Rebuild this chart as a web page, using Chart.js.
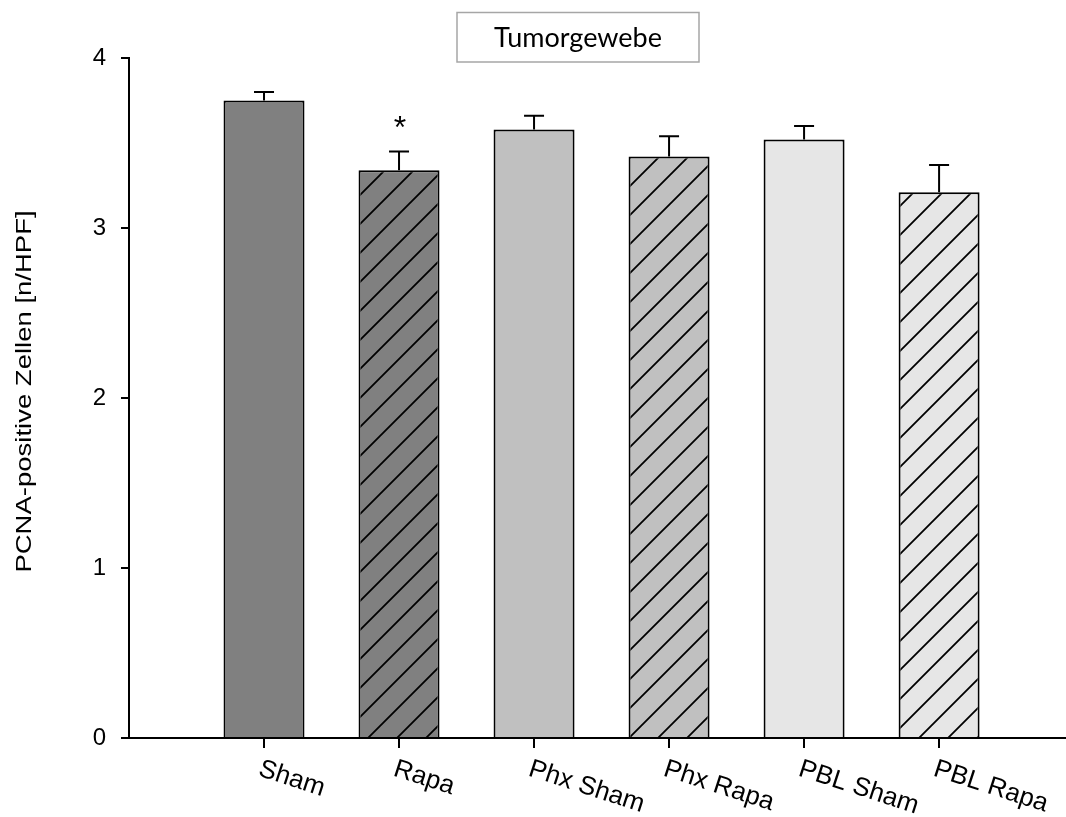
<!DOCTYPE html>
<html>
<head>
<meta charset="utf-8">
<script src="https://cdn.jsdelivr.net/npm/chart.js@4"></script>
<style>
  html, body { margin: 0; padding: 0; background: #ffffff; }
  #c { display: block; }
</style>
</head>
<body>
<canvas id="c" width="1066" height="817"></canvas>
<script>
// Group labels, means and error (upper whisker only)
const categories = ['Sham', 'Rapa', 'Phx Sham', 'Phx Rapa', 'PBL Sham', 'PBL Rapa'];
const means      = [3.75, 3.34, 3.58, 3.42, 3.52, 3.21];
const errors     = [0.05, 0.11, 0.08, 0.12, 0.08, 0.16];
const marks      = ['', '*', '', '', '', ''];
const yTicks     = [0, 1, 2, 3, 4];
const chartTitle = 'Tumorgewebe';
const yTitle     = 'PCNA-positive Zellen [n/HPF]';

// Fill shades and hatching per group
const shades  = ['#808080', '#808080', '#c0c0c0', '#c0c0c0', '#e6e6e6', '#e6e6e6'];
const hatched = [false, true, false, true, false, true];

const SANS = '"Liberation Sans", Arial, sans-serif';

function hatchPattern(bg) {
  const s = 29;
  const cv = document.createElement('canvas');
  cv.width = s; cv.height = s;
  const g = cv.getContext('2d');
  g.fillStyle = bg;
  g.fillRect(0, 0, s, s);
  g.strokeStyle = '#000';
  g.lineWidth = 1.8;
  g.beginPath();
  g.moveTo(-2, s + 2); g.lineTo(s + 2, -2);
  g.moveTo(-2, 2); g.lineTo(2, -2);
  g.moveTo(s - 2, s + 2); g.lineTo(s + 2, s - 2);
  g.stroke();
  const ctx = document.getElementById('c').getContext('2d');
  const p = ctx.createPattern(cv, 'repeat');
  if (p.setTransform) p.setTransform(new DOMMatrix().translate(4, 0));
  return p;
}

const fills = shades.map((c, i) => hatched[i] ? hatchPattern(c) : c);

// Upward error whiskers and significance marks
const errorBars = {
  id: 'errorBars',
  afterDatasetsDraw(chart) {
    const ctx = chart.ctx;
    const y = chart.scales.y;
    const meta = chart.getDatasetMeta(0);
    ctx.save();
    ctx.strokeStyle = '#000';
    ctx.lineWidth = 2;
    meta.data.forEach((bar, i) => {
      const top = y.getPixelForValue(means[i] + errors[i]);
      ctx.beginPath();
      ctx.moveTo(bar.x, bar.y);
      ctx.lineTo(bar.x, top);
      ctx.moveTo(bar.x - 10, top);
      ctx.lineTo(bar.x + 10, top);
      ctx.stroke();
      if (marks[i]) {
        ctx.fillStyle = '#000';
        ctx.font = '32px ' + SANS;
        ctx.textAlign = 'center';
        ctx.textBaseline = 'alphabetic';
        const m = ctx.measureText(marks[i]);
        const mid = (m.actualBoundingBoxAscent - m.actualBoundingBoxDescent) / 2;
        ctx.fillText(marks[i], bar.x + 1, top - 29.5 + mid);
      }
    });
    ctx.restore();
  }
};

// Slanted group labels, stretched y title and boxed chart title
const annotations = {
  id: 'annotations',
  afterDraw(chart) {
    const ctx = chart.ctx;
    const x = chart.scales.x;
    ctx.save();
    ctx.fillStyle = '#000';
    ctx.font = '26px ' + SANS;
    ctx.textAlign = 'left';
    ctx.textBaseline = 'alphabetic';
    const ang = 18 * Math.PI / 180;
    categories.forEach((lab, i) => {
      const px = x.getPixelForValue(i + 1);
      ctx.save();
      ctx.translate(px - 1 - 18.6 * Math.sin(ang), chart.chartArea.bottom + 19.5 + 18.6 * Math.cos(ang));
      ctx.rotate(ang);
      ctx.fillText(lab, 0, 0);
      ctx.restore();
    });

    // y axis title
    ctx.save();
    ctx.font = '22px ' + SANS;
    ctx.textAlign = 'center';
    ctx.translate(31, 391.5);
    ctx.rotate(-Math.PI / 2);
    ctx.scale(1.25, 1);
    ctx.fillText(yTitle, 0, 0);
    ctx.restore();

    // title box
    ctx.strokeStyle = '#a6a6a6';
    ctx.lineWidth = 1.5;
    ctx.strokeRect(457, 12.5, 242, 49.5);
    ctx.font = '27px Lato, "Open Sans", sans-serif';
    ctx.textAlign = 'center';
    ctx.fillText(chartTitle, 578, 47);
    ctx.restore();
  }
};

new Chart(document.getElementById('c'), {
  type: 'bar',
  data: {
    datasets: [{
      data: means.map((v, i) => ({ x: i + 1, y: v })),
      backgroundColor: fills,
      borderColor: '#000',
      borderWidth: 2,
      barPercentage: 0.6,
      categoryPercentage: 1
    }]
  },
  options: {
    responsive: false,
    animation: false,
    devicePixelRatio: 1,
    layout: { padding: { top: 58, left: 0, right: 0, bottom: 0 } },
    plugins: { legend: { display: false }, tooltip: { enabled: false }, title: { display: false } },
    scales: {
      x: {
        type: 'linear',
        offset: false,
        min: 0,
        max: 6.94,
        afterBuildTicks: s => { s.ticks = categories.map((_, i) => ({ value: i + 1 })); },
        afterFit: s => { s.height = 79; },
        ticks: { display: false },
        grid: { drawOnChartArea: false, drawTicks: true, tickLength: 10, color: '#000', lineWidth: 2, offset: false },
        border: { display: true, color: '#000', width: 2 }
      },
      y: {
        min: 0,
        max: 4,
        afterBuildTicks: s => { s.ticks = yTicks.map(v => ({ value: v })); },
        afterFit: s => { s.width = 129; },
        ticks: { color: '#000', font: { family: 'Liberation Sans', size: 24 }, padding: 15 },
        grid: { drawOnChartArea: false, drawTicks: true, tickLength: 8, color: '#000', lineWidth: 2 },
        border: { display: true, color: '#000', width: 2 }
      }
    }
  },
  plugins: [errorBars, annotations]
});
</script>
</body>
</html>
